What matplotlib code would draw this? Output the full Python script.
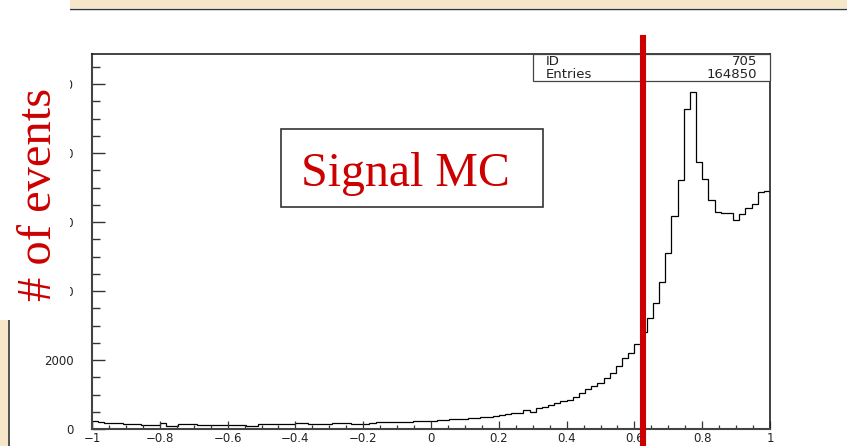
import numpy as np
import matplotlib
matplotlib.use("Agg")
import matplotlib.pyplot as plt
from matplotlib.patches import Rectangle
from matplotlib.lines import Line2D
import matplotlib.transforms as mtransforms

# Histogram: 110 bins between -1 and 1
x_range = (-1.0, 1.0)
n_bins = 110
counts = [
    232, 190, 170, 165, 160, 140, 135, 135, 120, 115,
    118, 160, 100, 98, 135, 132, 136, 115, 118, 125,
    128, 122, 126, 130, 124, 98, 100, 135, 138, 132,
    150, 148, 152, 160, 165, 158, 135, 138, 140, 165,
    160, 168, 140, 138, 142, 175, 192, 195, 198, 210,
    212, 215, 218, 235, 240, 245, 258, 265, 280, 290,
    295, 310, 325, 335, 350, 385, 405, 425, 454, 473,
    551, 502, 599, 628, 696, 763, 812, 841, 918, 1053,
    1160, 1247, 1343, 1488, 1614, 1836, 2068, 2194, 2454, 2822,
    3227, 3662, 4271, 5111, 6175, 7219, 9268, 9779, 7750, 7238,
    6639, 6281, 6252, 6272, 6059, 6233, 6416, 6523, 6880, 6900,
]
cut_value = 0.626

x_ticks = [-1, -0.8, -0.6, -0.4, -0.2, 0, 0.2, 0.4, 0.6, 0.8, 1]
x_tick_labels = ["\u22121", "\u22120.8", "\u22120.6", "\u22120.4", "\u22120.2",
                 "0", "0.2", "0.4", "0.6", "0.8", "1"]
y_ticks = [0, 2000, 4000, 6000, 8000, 10000]
y_tick_labels = ["0", "2000", "4000", "6000", "8000", "10000"]
y_max = 10870

stats_names = ["ID", "Entries"]
stats_values = ["705", "164850"]
panel_title = "Signal MC"
y_title = "# of events"

W, H = 847, 446
RED = "#cc0000"
BEIGE = "#f6e7c9"

fig = plt.figure(figsize=(W / 100, H / 100), dpi=100)
fig.patch.set_facecolor("white")


def fx(px):
    return px / W


def fy(py):
    return 1 - py / H


ax = fig.add_axes([fx(92), fy(429), fx(770) - fx(92), fy(54) - fy(429)])
edges = np.linspace(x_range[0], x_range[1], n_bins + 1)
ax.stairs(counts, edges, color="black", linewidth=0.9, baseline=0)
ax.set_xlim(*x_range)
ax.set_ylim(0, y_max)

ax.set_xticks(x_ticks)
ax.set_xticklabels(x_tick_labels)
ax.set_xticks(np.arange(-1, 1.001, 0.05), minor=True)
ax.set_yticks(y_ticks)
ax.set_yticklabels(y_tick_labels)
ax.set_yticks(np.arange(0, y_max, 500), minor=True)

ax.tick_params(axis="both", which="both", direction="in", colors="#333333",
               labelcolor="#222222", labelsize=8.5)
ax.tick_params(axis="y", which="major", length=9.4, width=1.0, pad=13)
ax.tick_params(axis="y", which="minor", length=5.8, width=1.0)
ax.tick_params(axis="x", which="major", length=5.5, width=0.9, pad=2.5)
ax.tick_params(axis="x", which="minor", length=2.7, width=0.9)

for side in ("left", "bottom"):
    ax.spines[side].set_linewidth(1.5)
    ax.spines[side].set_color("#444444")
for side in ("top", "right"):
    ax.spines[side].set_linewidth(1.2)
    ax.spines[side].set_color("#222222")

# Statistics box in the top-right corner
ax.add_patch(Rectangle((0.650, 0.9288), 0.35, 0.0712, transform=ax.transAxes,
                       facecolor="white", edgecolor="#444444", linewidth=0.9,
                       clip_on=False, zorder=4))
for i, (name, val) in enumerate(zip(stats_names, stats_values)):
    yy = 0.9795 - i * 0.0336
    ax.text(0.669, yy, name, transform=ax.transAxes, ha="left", va="center",
            fontsize=9.5, color="#222222", zorder=5)
    ax.text(0.9808, yy, val, transform=ax.transAxes, ha="right", va="center",
            fontsize=9.5, color="#222222", zorder=5)

# Slide decoration: top band and left band
fig.add_artist(Rectangle((fx(70), fy(8)), 1 - fx(70), 8 / H,
                         transform=fig.transFigure, facecolor=BEIGE,
                         edgecolor="none", zorder=1))
fig.add_artist(Line2D([fx(70), 1], [fy(8.5), fy(8.5)], transform=fig.transFigure,
                      color="#333333", linewidth=1.0, zorder=1))
fig.add_artist(Rectangle((0, 0), fx(8), fy(320),
                         transform=fig.transFigure, facecolor=BEIGE,
                         edgecolor="none", zorder=1))
fig.add_artist(Line2D([fx(8.5), fx(8.5)], [0, fy(320)], transform=fig.transFigure,
                      color="#333333", linewidth=1.2, zorder=1))

# White box holding the vertical axis title
fig.add_artist(Rectangle((0, fy(320)), fx(70), 1 - fy(320),
                         transform=fig.transFigure, facecolor="white",
                         edgecolor="none", zorder=2))
fig.text(fx(51), fy(194), y_title, rotation=90, rotation_mode="anchor",
         ha="center", va="baseline", color=RED, fontsize=35,
         family="Liberation Serif", zorder=3)

# Framed label
fig.add_artist(Rectangle((fx(281), fy(207)), fx(542.5) - fx(281), fy(129) - fy(207),
                         transform=fig.transFigure, facecolor="white",
                         edgecolor="#333333", linewidth=1.2, zorder=3))
fig.text(fx(405.5), fy(186), panel_title, ha="center", va="baseline",
         color=RED, fontsize=34.5, family="Liberation Serif", zorder=4)

# Cut position marker
blend = mtransforms.blended_transform_factory(ax.transData, fig.transFigure)
fig.add_artist(Line2D([cut_value, cut_value], [0, fy(38)], transform=blend,
                      color=RED, linewidth=4.4, zorder=6))

fig.savefig("out.png", dpi=100)
